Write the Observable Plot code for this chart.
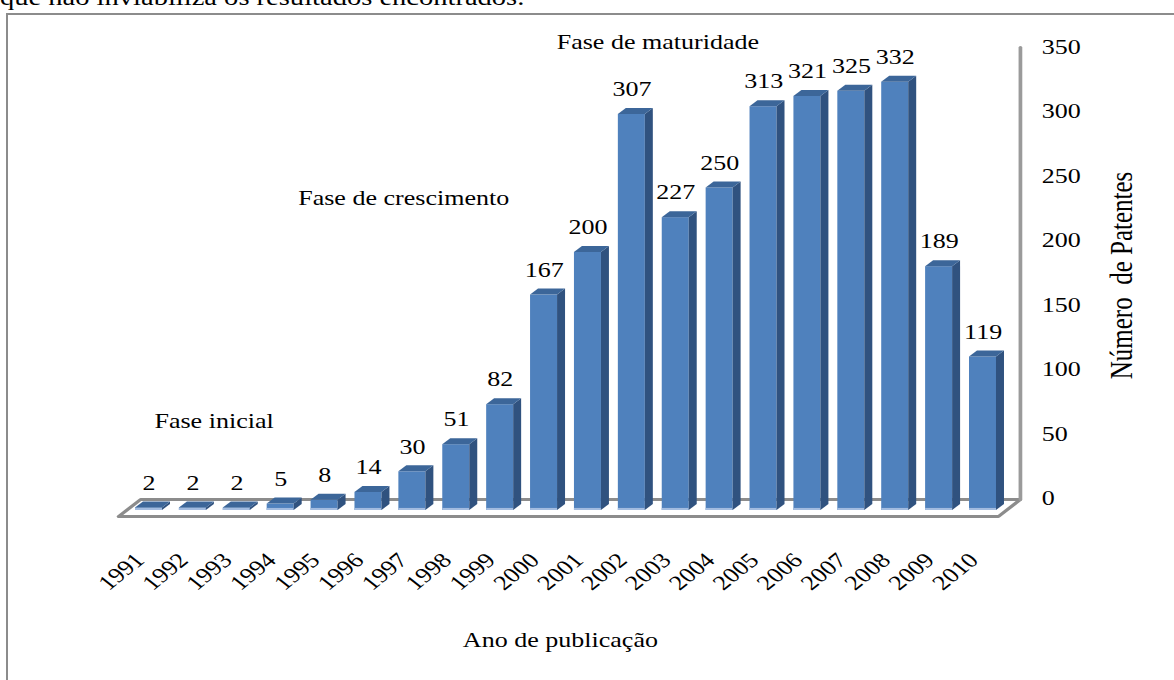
<!DOCTYPE html>
<html>
<head>
<meta charset="utf-8">
<script src="https://cdn.jsdelivr.net/npm/d3@7"></script>
<script src="https://cdn.jsdelivr.net/npm/@observablehq/plot@0.6"></script>
<style>
html,body{margin:0;padding:0;background:#fff;width:1174px;height:680px;overflow:hidden;}
#page{position:absolute;left:0;top:0;width:947px;height:680px;transform:scaleX(1.24);transform-origin:0 0;}
#header{position:absolute;left:0;top:-14px;font-family:"Liberation Serif","Times New Roman",serif;font-size:23px;line-height:23px;white-space:nowrap;color:#000;}
#chart{position:absolute;left:0;top:0;}
#frame{position:absolute;left:6px;top:13px;width:1200px;height:700px;border:2px solid #8c8c8c;box-sizing:border-box;}
svg text{white-space:pre;}
</style>
</head>
<body>
<div id="page">
  <div id="header">que não inviabiliza os resultados encontrados.</div>
  <div id="chart"></div>
</div>
<div id="frame"></div>
<script>
// ---- data ----
const years = [1991,1992,1993,1994,1995,1996,1997,1998,1999,2000,2001,2002,2003,2004,2005,2006,2007,2008,2009,2010];
const patents = [2,2,2,5,8,14,30,51,82,167,200,307,227,250,313,321,325,332,189,119];
const yTicks = [0,50,100,150,200,250,300,350];
const phaseLabels = ["Fase inicial","Fase de crescimento","Fase de maturidade"];
const phaseX = [1992.48, 1996.8, 2002.59];
const phaseY = [69, 242, 363];
const xTitle = "Ano de publicação";
const yTitle = "Número  de Patentes";

// ---- geometry (3D look, in data units) ----
const hw = 0.3075;   // half bar width (years)
const dxu = 0.182;   // depth, x (years)
const dyu = 4.65;    // depth, y (patents)
const floorFront = -4.65, floorBack = 8.53;
const floorLeftFront = 1990.305, floorLeftBack = 1990.806;
const floorRightFront = 2010.349, floorRightBack = 2010.85;
const wallTop = 358.9;

const bars = years.map((year, i) => ({year, value: patents[i]}));
const sideFaces = bars.flatMap(d => [
  {year: d.year, x: d.year + hw, y1: 0, y2: d.value},
  {year: d.year, x: d.year + hw + dxu, y1: dyu, y2: d.value + dyu}
]);
const topFaces = bars.flatMap(d => [
  {year: d.year, x: d.year - hw, y1: d.value, y2: d.value},
  {year: d.year, x: d.year - hw + dxu, y1: d.value, y2: d.value + dyu},
  {year: d.year, x: d.year + hw, y1: d.value, y2: d.value + dyu},
  {year: d.year, x: d.year + hw + dxu, y1: d.value + dyu, y2: d.value + dyu}
]);
const floorOutline = [
  {x: floorLeftFront, y: floorFront},
  {x: floorLeftBack, y: floorBack},
  {x: floorRightBack, y: floorBack},
  {x: floorRightFront, y: floorFront},
  {x: floorLeftFront, y: floorFront}
];
const wallLine = [{x: floorRightBack, y: floorBack}, {x: floorRightBack, y: wallTop}];
const phases = phaseLabels.map((label, i) => ({label, x: phaseX[i], y: phaseY[i]}));

const S = 1.24;
const chart = Plot.plot({
  width: 947,
  height: 680,
  marginLeft: 119.76,
  marginRight: 154.66,
  marginTop: 58.5,
  marginBottom: 170,
  x: {type: "linear", domain: [1991, 2010], axis: null},
  y: {domain: [0, 350], axis: null},
  style: {fontFamily: '"Liberation Serif", "Times New Roman", serif', fontSize: "21px", color: "#000", background: "transparent", overflow: "visible"},
  marks: [
    Plot.line(floorOutline, {x: "x", y: "y", stroke: "#8c8c8c", strokeWidth: 3, strokeLinejoin: "miter"}),
    Plot.line(wallLine, {x: "x", y: "y", stroke: "#9a9a9a", strokeWidth: 3}),
    Plot.rect(bars, {x1: d => d.year - hw, x2: d => d.year + hw, y1: 0, y2: "value", fill: "#4F81BD"}),
    Plot.rect(bars, {x1: d => d.year - hw, x2: d => d.year + hw, y1: 0, y2: d => Math.min(d.value, 1.6), fill: "#A3BCE0"}),
    Plot.areaY(sideFaces, {x: "x", y1: "y1", y2: "y2", z: "year", fill: "#30527F"}),
    Plot.areaY(topFaces, {x: "x", y1: "y1", y2: "y2", z: "year", fill: "#3C6699"}),
    Plot.text(bars, {x: "year", y: "value", text: d => String(d.value), dy: -25}),
    Plot.axisY(yTicks, {anchor: "right", tickSize: 0, tickPadding: 47.2, dy: -12, label: null, tickFormat: d => String(d)}),
    Plot.text(years, {x: d => d, frameAnchor: "bottom", dy: 51, dx: -2.8, rotate: -45, textAnchor: "end", lineAnchor: "bottom", text: d => String(d)}),
    Plot.text(phases, {x: "x", y: "y", text: "label"}),
    Plot.text([xTitle], {x: 2000.37, y: -100.8, text: d => d}),
    Plot.text([yTitle], {x: floorRightBack, y: 182.2, dx: 102 / S, rotate: -90, fontSize: 25, text: d => d})
  ]
});
document.getElementById("chart").appendChild(chart);
</script>
</body>
</html>
